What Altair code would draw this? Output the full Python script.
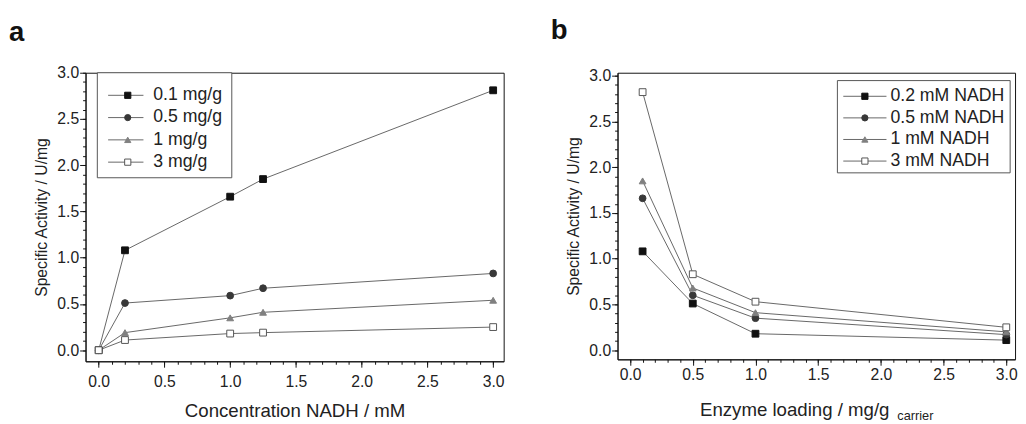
import altair as alt
import pandas as pd

# ---------------- data ----------------
nadh_conc = [0.0, 0.2, 1.0, 1.25, 3.0]
loading_series = ["0.1 mg/g", "0.5 mg/g", "1 mg/g", "3 mg/g"]
act_load_01 = [0.0, 1.08, 1.66, 1.85, 2.81]
act_load_05 = [0.0, 0.51, 0.59, 0.67, 0.83]
act_load_1 = [0.0, 0.19, 0.35, 0.41, 0.54]
act_load_3 = [0.0, 0.11, 0.18, 0.19, 0.25]

enzyme_loading = [0.1, 0.5, 1.0, 3.0]
nadh_series = ["0.2 mM NADH", "0.5 mM NADH", "1 mM NADH", "3 mM NADH"]
act_nadh_02 = [1.08, 0.51, 0.18, 0.11]
act_nadh_05 = [1.66, 0.60, 0.35, 0.17]
act_nadh_1 = [1.85, 0.68, 0.41, 0.20]
act_nadh_3 = [2.82, 0.83, 0.53, 0.25]

major_ticks = [0.0, 0.5, 1.0, 1.5, 2.0, 2.5, 3.0]
minor_ticks = [i / 10 for i in range(0, 31)]

# ---------------- styles ----------------
FONT = "Liberation Sans"
TXT = "#222222"
LINE = "#666666"
shapes = ["square", "circle", "triangle-up", "square"]
fills = ["#111111", "#383838", "#808080", "#ffffff"]
strokes = ["#111111", "#383838", "#808080", "#555555"]


def long_table(xs, names, series):
    rows = []
    for name, ys in zip(names, series):
        for x, y in zip(xs, ys):
            rows.append({"x": x, "y": y, "series": name})
    return pd.DataFrame(rows)


def panel(df, names, xdom, ydom, xtitle, xlabpad, legend_pos, letter, letter_dx, letter_dy):
    xs = alt.Scale(domain=xdom, nice=False, zero=False)
    ys = alt.Scale(domain=ydom, nice=False, zero=False)
    order = alt.Order("x:Q")
    ser_shape = alt.Shape("series:N", scale=alt.Scale(domain=names, range=shapes), legend=None)
    ser_fill = alt.Fill("series:N", scale=alt.Scale(domain=names, range=fills), legend=None)
    ser_stroke = alt.Stroke("series:N", scale=alt.Scale(domain=names, range=strokes), legend=None)

    common = dict(labelFont=FONT, labelFontSize=16, labelColor=TXT,
                  titleFont=FONT, titleColor=TXT, titleFontWeight="normal",
                  grid=False, tickColor="#111")
    major_x = alt.Axis(values=major_ticks, format=".1f", tickSize=6, labelPadding=xlabpad,
                       domainColor="#111", title=xtitle if xtitle else None,
                       titleFontSize=19, titlePadding=12, orient="bottom", **common)
    major_y = alt.Axis(values=major_ticks, format=".1f", tickSize=6, labelPadding=1,
                       domainColor="#111", title="Specific Activity / U/mg",
                       titleFontSize=16, titlePadding=8, orient="left", **common)
    minor_x = alt.Axis(values=minor_ticks, tickSize=3, labels=False, domain=False,
                       title=None, orient="bottom", **common)
    minor_y = alt.Axis(values=minor_ticks, tickSize=3, labels=False, domain=False,
                       title=None, orient="left", **common)

    lines = alt.Chart(df).mark_line(color=LINE, strokeWidth=1).encode(
        x=alt.X("x:Q", scale=xs, axis=major_x),
        y=alt.Y("y:Q", scale=ys, axis=major_y),
        detail="series:N",
        order=order,
    )
    points = alt.Chart(df).mark_point(size=48, opacity=1, strokeWidth=1, filled=False).encode(
        x=alt.X("x:Q", scale=xs, axis=minor_x),
        y=alt.Y("y:Q", scale=ys, axis=minor_y),
        shape=ser_shape, fill=ser_fill, stroke=ser_stroke,
    )

    # legend (drawn inside the plot area)
    lx0, lx1, ly0, ly1, row0, gap, seg0, seg1, mk, tx = legend_pos
    leg = pd.DataFrame({"series": names,
                        "ly": [row0 + i * gap for i in range(len(names))]})
    box = alt.Chart(pd.DataFrame({"k": [0]})).mark_rect(
        fill="white", stroke="#555555", strokeWidth=1
    ).encode(x=alt.value(lx0), x2=alt.value(lx1), y=alt.value(ly0), y2=alt.value(ly1))
    leg_lines = alt.Chart(leg).mark_rule(color=LINE, strokeWidth=1).encode(
        x=alt.value(seg0), x2=alt.value(seg1), y=alt.Y("ly:Q", scale=None, axis=None))
    leg_pts = alt.Chart(leg).mark_point(size=40, opacity=1, strokeWidth=1, filled=False).encode(
        x=alt.value(mk), y=alt.Y("ly:Q", scale=None, axis=None),
        shape=ser_shape, fill=ser_fill, stroke=ser_stroke)
    leg_txt = alt.Chart(leg).mark_text(align="left", baseline="middle", font=FONT,
                                       fontSize=18, color=TXT).encode(
        x=alt.value(tx), y=alt.Y("ly:Q", scale=None, axis=None), text="series:N")

    lab = alt.Chart(pd.DataFrame({"t": [letter]})).mark_text(
        align="left", baseline="alphabetic", font=FONT, fontSize=28, fontWeight="bold",
        color="#111").encode(x=alt.value(letter_dx), y=alt.value(letter_dy), text="t:N")

    return [lines, points, box, leg_lines, leg_pts, leg_txt, lab]


# ---------------- panel a ----------------
df_a = long_table(nadh_conc, loading_series,
                  [act_load_01, act_load_05, act_load_1, act_load_3])
layers_a = panel(df_a, loading_series, [-0.1, 3.08], [-0.12, 3.0],
                 "Concentration NADH / mM", 7,
                 (12, 149, 0, 107, 23, 22.7, 23, 59, 43, 69), "a", -78, -32)
chart_a = alt.layer(*layers_a).resolve_axis(x="independent", y="independent").properties(
    width=426, height=294)

# ---------------- panel b ----------------
df_b = long_table(enzyme_loading, nadh_series,
                  [act_nadh_02, act_nadh_05, act_nadh_1, act_nadh_3])
layers_b = panel(df_b, nadh_series, [-0.1, 3.07], [-0.1, 3.032],
                 None, 2,
                 (224, 400, 8, 102, 24, 22, 230, 274, 252, 278), "b", -68, -34)
title_main = alt.Chart(pd.DataFrame({"t": ["Enzyme loading / mg/g"]})).mark_text(
    align="left", baseline="alphabetic", font=FONT, fontSize=19, color=TXT).encode(
    x=alt.value(84), y=alt.value(350), text="t:N")
title_sub = alt.Chart(pd.DataFrame({"t": ["carrier"]})).mark_text(
    align="left", baseline="alphabetic", font=FONT, fontSize=13, color=TXT).encode(
    x=alt.value(285), y=alt.value(354), text="t:N")
chart_b = alt.layer(*layers_b, title_main, title_sub).resolve_axis(
    x="independent", y="independent").properties(width=405, height=292)

chart = alt.hconcat(chart_a, chart_b, spacing=46).properties(
    padding={"left": 0, "top": 5, "right": 0, "bottom": 0},
    background="white",
).configure_view(stroke="#111", strokeWidth=1)

chart.save("out.html", embed_options={"renderer": "svg", "actions": False})
